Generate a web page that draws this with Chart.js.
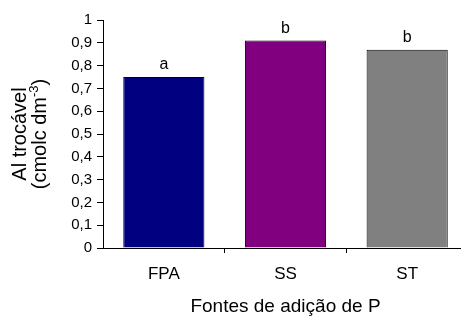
<!DOCTYPE html>
<html>
<head>
<meta charset="utf-8">
<script src="https://cdn.jsdelivr.net/npm/chart.js@4.4.1/dist/chart.umd.min.js"></script>
<style>
    html, body { margin: 0; padding: 0; overflow: hidden; background: #fff; }
    #wrap { width: 470px; height: 316px; }
</style>
</head>
<body>
<div id="wrap"><canvas id="al_chart"></canvas></div>
<script>
// data
const categories = ['FPA', 'SS', 'ST'];
const alValues = [0.75, 0.91, 0.87];
const letters = ['a', 'b', 'b'];
const barColors = ['#000080', '#800080', '#808080'];
const yTitleLine1 = 'Al trocável';
const yTitleLine2 = ['(cmolc dm', '-3', ')'];
const xTitle = 'Fontes de adição de P';

Chart.defaults.font.family = "'Liberation Sans', Arial, sans-serif";
Chart.defaults.color = '#000';

// letters above the bars
const letterPlugin = {
    id: 'letters',
    afterDatasetsDraw(chart) {
        const ctx = chart.ctx;
        ctx.save();
        ctx.font = "16px 'Liberation Sans', Arial, sans-serif";
        ctx.fillStyle = '#000';
        ctx.textAlign = 'center';
        ctx.textBaseline = 'alphabetic';
        chart.getDatasetMeta(0).data.forEach((bar, i) => {
            ctx.fillText(letters[i], bar.x, bar.y - 8);
        });
        ctx.restore();
    }
};

// two-line y title with superscript
const yTitlePlugin = {
    id: 'yTitle',
    afterDraw(chart) {
        const ctx = chart.ctx;
        const midY = (chart.chartArea.top + chart.chartArea.bottom) / 2;
        const big = "20px 'Liberation Sans', Arial, sans-serif";
        const small = "13px 'Liberation Sans', Arial, sans-serif";
        ctx.save();
        ctx.fillStyle = '#000';
        ctx.textBaseline = 'alphabetic';

        ctx.save();
        ctx.translate(26, midY);
        ctx.rotate(-Math.PI / 2);
        ctx.font = big;
        ctx.textAlign = 'center';
        ctx.fillText(yTitleLine1, 0, 0);
        ctx.restore();

        ctx.save();
        ctx.translate(46, midY);
        ctx.rotate(-Math.PI / 2);
        ctx.textAlign = 'left';
        ctx.font = big;
        const w1 = ctx.measureText(yTitleLine2[0]).width;
        const w3 = ctx.measureText(yTitleLine2[2]).width;
        ctx.font = small;
        const w2 = ctx.measureText(yTitleLine2[1]).width;
        let x = -(w1 + w2 + w3) / 2;
        ctx.font = big;
        ctx.fillText(yTitleLine2[0], x, 0);
        x += w1;
        ctx.font = small;
        ctx.fillText(yTitleLine2[1], x, -8);
        x += w2;
        ctx.font = big;
        ctx.fillText(yTitleLine2[2], x, 0);
        ctx.restore();

        ctx.restore();
    }
};

const ctx = document.getElementById('al_chart').getContext('2d');
new Chart(ctx, {
    type: 'bar',
    data: {
        labels: categories,
        datasets: [{
            data: alValues,
            backgroundColor: barColors,
            borderColor: '#000',
            borderWidth: 1,
            barPercentage: 0.667,
            categoryPercentage: 1
        }]
    },
    options: {
        responsive: true,
        maintainAspectRatio: false,
        animation: false,
        layout: { padding: { left: 45, top: 20, right: 2, bottom: 0 } },
        plugins: {
            legend: { display: false },
            tooltip: { enabled: false }
        },
        scales: {
            x: {
                afterFit: s => { s.height = 68; },
                border: { color: '#000', width: 1 },
                grid: {
                    offset: true,
                    drawOnChartArea: false,
                    tickLength: 5,
                    color: c => c.index === 0 ? 'rgba(0,0,0,0)' : '#000'
                },
                ticks: { font: { size: 17 }, padding: 11, color: '#000' },
                title: {
                    display: true,
                    text: xTitle,
                    font: { size: 19, lineHeight: 1 },
                    padding: { top: 0, bottom: 0 },
                    color: '#000'
                }
            },
            y: {
                min: 0,
                max: 1,
                afterFit: s => { s.width = 58; },
                border: { color: '#000', width: 1 },
                grid: { drawOnChartArea: false, tickLength: 6, color: '#000' },
                ticks: {
                    stepSize: 0.1,
                    padding: 5,
                    font: { size: 15 },
                    color: '#000',
                    callback: v => {
                        const r = Math.round(v * 10) / 10;
                        return (r === 0 || r === 1) ? String(r) : r.toFixed(1).replace('.', ',');
                    }
                }
            }
        }
    },
    plugins: [letterPlugin, yTitlePlugin]
});
</script>
</body>
</html>
